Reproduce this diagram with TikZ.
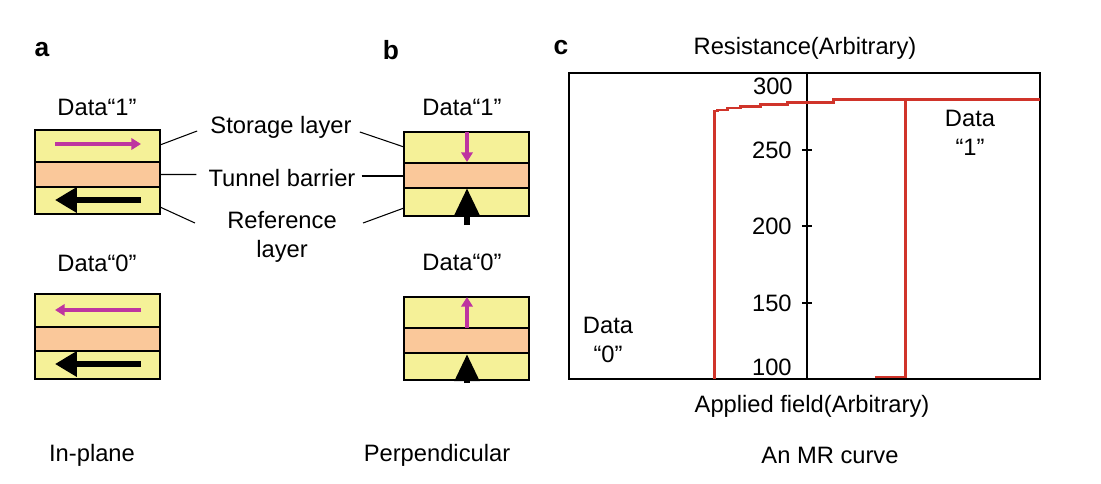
\documentclass[tikz,border=0pt]{standalone}
\usepackage{fontspec}
\setmainfont{Liberation Sans}
\usetikzlibrary{arrows.meta,positioning}
\usepackage{xcolor}

\definecolor{layerYellow}{RGB}{245,241,152}
\definecolor{barrierOrange}{RGB}{250,200,154}
\definecolor{spinMagenta}{RGB}{190,52,160}
\definecolor{curveRed}{RGB}{208,52,42}

\tikzset{
  layer/.style={draw=black, line width=0.9pt},
  leader/.style={draw=black, line width=0.6pt},
  freespin/.style={spinMagenta, line width=2.4pt, -{Triangle[length=5.5pt,width=6.5pt]}},
  pinnedspin/.style={black, line width=2.9pt, -{Triangle[length=12.5pt,width=14pt]}},
  pinnedup/.style={black, line width=3.4pt, -{Triangle[length=15.5pt,width=13.5pt]}},
  panel/.style={font=\fontsize{15}{18}\selectfont\bfseries},
  txt/.style={align=center, inner sep=0pt},
  mrcurve/.style={curveRed, line width=1.7pt, line join=miter},
}

\begin{document}
\begin{tikzpicture}[x=0.02cm, y=-0.02cm, font=\fontsize{13.5}{16.4}\selectfont, >=Stealth]
  \useasboundingbox (0,0) rectangle (1101,483);

  %% Panel letters
  \node[panel] (la) at (42,50) {a};
  \node[panel] (lb) at (391,50) {b};
  \node[panel] (lc) at (561,48) {c};

  %% ── MTJ stacks: left x / storage top / barrier top / reference top / bottom
  \foreach \x/\ya/\yb/\yc/\yd in {35/130/162/187/214, 35/294/327/351/379,
                                  404/132/163/188/216, 404/297/328/353/380}{
    \filldraw[layer, fill=layerYellow]   (\x,\ya) rectangle (\x+125,\yb);
    \filldraw[layer, fill=barrierOrange] (\x,\yb) rectangle (\x+125,\yc);
    \filldraw[layer, fill=layerYellow]   (\x,\yc) rectangle (\x+125,\yd);
  }

  %% In-plane magnetisation
  \node[txt] (a1) at (97,107) {Data“1”};
  \node[txt] (a0) at (97,263) {Data“0”};
  \draw[freespin] (55,144) -- (141,144);
  \draw[freespin] (141,310) -- (55,310);
  \draw[pinnedspin] (141,200) -- (55,200);
  \draw[pinnedspin] (141,364) -- (55,364);

  %% Perpendicular magnetisation
  \node[txt] (b1) at (462,107) {Data“1”};
  \node[txt] (b0) at (462,262) {Data“0”};
  \draw[freespin] (467,132) -- (467,162);
  \draw[freespin] (467,328) -- (467,297);
  \draw[pinnedup] (467,225) -- (467,188);
  \draw[pinnedup] (467,383) -- (467,354);

  %% Layer names and leader lines
  \node[txt] (storage) at (281,127) {Storage layer};
  \node[txt] (tunnel) at (282,178) {Tunnel barrier};
  \node[txt] (reference) at (282,237) {Reference\\layer};
  \coordinate (aStore) at (160,145);
  \coordinate (aTunnel) at (160,174.5);
  \coordinate (aRef) at (160,207);
  \coordinate (bStore) at (404,147);
  \coordinate (bTunnel) at (404,176);
  \coordinate (bRef) at (404,208);
  \draw[leader] (aStore) -- ([shift={(-13,4)}]storage.west);
  \draw[leader] (aTunnel) -- ([shift={(-12,-3.5)}]tunnel.west);
  \draw[leader] (aRef) -- ([shift={(-32,-14)}]reference.west);
  \draw[leader] ([shift={(8,5)}]storage.east) -- (bStore);
  \draw[leader] ([shift={(6,-2)}]tunnel.east) -- (bTunnel);
  \draw[leader] ([shift={(26,-14)}]reference.east) -- (bRef);

  %% ── MR curve frame and resistance axis
  \draw[line width=1.1pt] (569,73) rectangle (1040,379);
  \draw[line width=0.6pt] (807,73) -- (807,379);
  \foreach \y/\lbl in {150/250, 226/200, 303/150}{
    \draw[line width=0.6pt] (802,\y) -- (812,\y);
    \node[anchor=east, inner sep=0pt] at (792,\y) {\lbl};
  }
  \node[anchor=east, inner sep=0pt] (r300) at (793,86) {300};
  \node[anchor=east, inner sep=0pt] (r100) at (792,367) {100};
  \node[txt] (yname) at (805,48) {Resistance(Arbitrary)};
  \node[txt] (xname) at (812,406) {Applied field(Arbitrary)};

  %% Hysteresis loop
  \draw[mrcurve] (714,379) -- (714,111) -- (717,111) -- (717,110) -- (727,110)
    -- (727,108) -- (740,108) -- (740,106.5) -- (760,106.5) -- (760,104.5)
    -- (787,104.5) -- (787,102.5) -- (833,102.5) -- (833,99.5) -- (1040,99.5);
  \draw[mrcurve] (875,377) -- (905,377) -- (905,99.5);

  \node[txt] (d0) at (608,340) {Data\\“0”};
  \node[txt] (d1) at (970,133) {Data\\“1”};

  %% Captions
  \node[txt] (capA) at (92,455) {In-plane};
  \node[txt] (capB) at (437,455) {Perpendicular};
  \node[txt] (capC) at (830,455) {An MR curve};

\end{tikzpicture}
\end{document}
